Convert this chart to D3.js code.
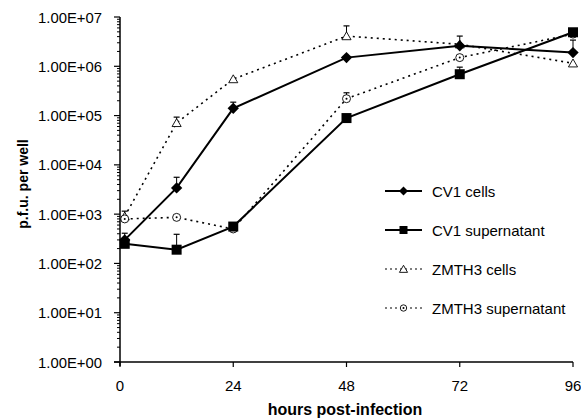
<!DOCTYPE html>
<html>
<head>
<meta charset="utf-8">
<script src="https://cdn.jsdelivr.net/npm/d3@7"></script>
<style>
  body { margin: 0; background: #fff; }
  text { font-family: Arial, "Liberation Sans", sans-serif; }
</style>
</head>
<body>
<div id="chart"></div>
<script>
// hours post-infection
var hours = [1, 12, 24, 48, 72, 96];
var xTicks = [0, 24, 48, 72, 96];
var yTicks = [1, 10, 100, 1e3, 1e4, 1e5, 1e6, 1e7];

var cv1Cells      = [300, 3400, 140000, 1500000, 2600000, 1900000];
var cv1CellsErr   = [410, 5600, 187000, null, 4100000, 3400000];
var cv1Super      = [250, 190, 560, 89000, 690000, 4900000];
var cv1SuperErr   = [null, 390, null, null, 960000, null];
var zmCells       = [900, 71000, 550000, 4100000, 2800000, 1150000];
var zmCellsErr    = [1150, 93000, null, 6600000, null, null];
var zmSuper       = [800, 860, 500, 220000, 1500000, 4500000];
var zmSuperErr    = [null, null, null, 290000, null, null];

var seriesNames = ["CV1 cells", "CV1 supernatant", "ZMTH3 cells", "ZMTH3 supernatant"];

var width = 581, height = 418;
var svg = d3.select("#chart").append("svg")
    .attr("width", width)
    .attr("height", height);

var x = d3.scaleLinear().domain([0, 96]).range([120, 573]);
var y = d3.scaleLog().domain([1, 1e7]).range([362, 17]);

// y axis with minor ticks
var g = svg.append("g");
g.append("line").attr("x1", x(0)).attr("x2", x(0))
    .attr("y1", y(1e7)).attr("y2", y(1) + 4)
    .attr("stroke", "#000").attr("stroke-width", 1.5);

for (var d = 0; d < 7; d++) {
  for (var m = 2; m < 10; m++) {
    var v = Math.pow(10, d) * m;
    g.append("line").attr("x1", x(0) - 3).attr("x2", x(0))
        .attr("y1", y(v)).attr("y2", y(v))
        .attr("stroke", "#000").attr("stroke-width", 1);
  }
}
g.selectAll(".ymaj").data(yTicks).enter().append("line")
    .attr("x1", x(0) - 6).attr("x2", x(0))
    .attr("y1", function(d) { return y(d); })
    .attr("y2", function(d) { return y(d); })
    .attr("stroke", "#000").attr("stroke-width", 1.2);
g.selectAll(".ylab").data(yTicks).enter().append("text")
    .attr("x", 102)
    .attr("y", function(d) { return y(d) + 5.5; })
    .attr("text-anchor", "end")
    .attr("font-size", 15)
    .attr("textLength", 64)
    .attr("lengthAdjust", "spacingAndGlyphs")
    .text(function(d) { return "1.00E+0" + Math.round(Math.log10(d)); });

// x axis
g.append("line").attr("x1", x(0) - 6).attr("x2", x(96))
    .attr("y1", y(1)).attr("y2", y(1))
    .attr("stroke", "#000").attr("stroke-width", 1.5);
g.selectAll(".xt").data(xTicks).enter().append("line")
    .attr("x1", function(d) { return x(d); })
    .attr("x2", function(d) { return x(d); })
    .attr("y1", y(1)).attr("y2", y(1) + 5)
    .attr("stroke", "#000").attr("stroke-width", 1.2);
g.selectAll(".xl").data(xTicks).enter().append("text")
    .attr("x", function(d) { return x(d); })
    .attr("y", 391)
    .attr("text-anchor", "middle")
    .attr("font-size", 15)
    .text(function(d) { return d; });

svg.append("text").attr("x", 345).attr("y", 415)
    .attr("text-anchor", "middle").attr("font-size", 16).attr("font-weight", "bold")
    .text("hours post-infection");
svg.append("text")
    .attr("transform", "translate(28,184) rotate(-90)")
    .attr("text-anchor", "middle").attr("font-size", 14).attr("font-weight", "bold")
    .text("p.f.u. per well");

var line = d3.line()
    .x(function(d) { return x(d[0]); })
    .y(function(d) { return y(d[1]); });

var series = [
  { name: seriesNames[0], vals: cv1Cells, err: cv1CellsErr, dash: null, sw: 2, marker: "diamond" },
  { name: seriesNames[1], vals: cv1Super, err: cv1SuperErr, dash: null, sw: 2, marker: "square" },
  { name: seriesNames[2], vals: zmCells, err: zmCellsErr, dash: "2,4", sw: 1.6, marker: "triangle" },
  { name: seriesNames[3], vals: zmSuper, err: zmSuperErr, dash: "2,4", sw: 1.6, marker: "circle" }
];

function drawMarker(sel, type, cx, cy, s) {
  s = s || 1;
  if (type === "diamond") {
    // square turned 45 degrees
    sel.append("rect").attr("x", -4 * s).attr("y", -4 * s)
      .attr("width", 8 * s).attr("height", 8 * s)
      .attr("transform", "translate(" + cx + "," + cy + ") rotate(45)")
      .attr("fill", "#000");
  } else if (type === "square") {
    sel.append("rect").attr("x", cx - 5 * s).attr("y", cy - 5 * s)
      .attr("width", 10 * s).attr("height", 10 * s).attr("fill", "#000");
  } else if (type === "triangle") {
    sel.append("path").attr("d", d3.symbol().type(d3.symbolTriangle).size(36 * s)())
      .attr("transform", "translate(" + cx + "," + (cy + 1) + ")")
      .attr("fill", "#fff").attr("stroke", "#000").attr("stroke-width", 0.9);
  } else {
    sel.append("circle").attr("cx", cx).attr("cy", cy).attr("r", 4 * s)
      .attr("fill", "#fff").attr("stroke", "#000").attr("stroke-width", 0.9);
    sel.append("circle").attr("cx", cx).attr("cy", cy).attr("r", 1)
      .attr("fill", "#000");
  }
}

// lines first, dotted ones first so solid lines sit on top
var order = [2, 3, 0, 1];
order.forEach(function(i) {
  var s = series[i];
  var pts = hours.map(function(h, j) { return [h, s.vals[j]]; });
  svg.append("path").datum(pts)
    .attr("d", line)
    .attr("fill", "none")
    .attr("stroke", "#000")
    .attr("stroke-width", s.sw)
    .attr("stroke-dasharray", s.dash);
});

// error bars
series.forEach(function(s) {
  hours.forEach(function(h, j) {
    if (s.err[j] == null) return;
    var cx = x(h);
    svg.append("line").attr("x1", cx).attr("x2", cx)
      .attr("y1", y(s.vals[j])).attr("y2", y(s.err[j]))
      .attr("stroke", "#000").attr("stroke-width", 1);
    svg.append("line").attr("x1", cx - 3).attr("x2", cx + 3)
      .attr("y1", y(s.err[j])).attr("y2", y(s.err[j]))
      .attr("stroke", "#000").attr("stroke-width", 1.2);
  });
});

// markers
order.forEach(function(i) {
  var s = series[i];
  hours.forEach(function(h, j) {
    drawMarker(svg, s.marker, x(h), y(s.vals[j]));
  });
});

// legend
var legY = [191, 230, 269, 308];
series.forEach(function(s, i) {
  var lg = svg.append("g");
  lg.append("line").attr("x1", 385).attr("x2", 422)
    .attr("y1", legY[i]).attr("y2", legY[i])
    .attr("stroke", "#000")
    .attr("stroke-width", s.dash ? 1.2 : 2)
    .attr("stroke-dasharray", s.dash ? "2,3" : null);
  drawMarker(lg, s.marker, 403.5, legY[i], 0.8);
  lg.append("text").attr("x", 432).attr("y", legY[i] + 5.5)
    .attr("font-size", 15)
    .text(s.name);
});
</script>
</body>
</html>
